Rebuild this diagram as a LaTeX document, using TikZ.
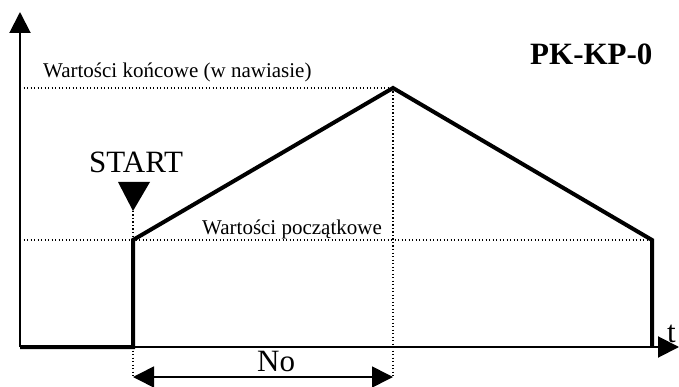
\documentclass[tikz,border=0pt]{standalone}
\usepackage{fontspec}
\setmainfont{Liberation Serif}
\usetikzlibrary{arrows.meta}
\begin{document}
\begin{tikzpicture}[x=1pt,y=-1pt,
  axis/.style={line width=2pt,-{Triangle[length=21pt,width=21pt]}},
  signal/.style={line width=4pt,line join=miter},
  guide/.style={line width=1.5pt,dash pattern=on 1.4pt off 2.1pt},
  dim/.style={line width=1.6pt,{Triangle[length=21pt,width=21pt]}-{Triangle[length=21pt,width=21pt]}},
  small/.style={inner sep=0pt,anchor=base west,font=\fontsize{21}{25}\selectfont},
  big/.style={inner sep=0pt,anchor=base west,font=\fontsize{31}{36}\selectfont},
  marker/.style={fill=black}]
\useasboundingbox (0,0) rectangle (679,387);
% key points
\coordinate (O) at (20,347);
\coordinate (Ytop) at (20,12);
\coordinate (Xend) at (679,347);
\coordinate (S1) at (133,347);
\coordinate (S2) at (133,240);
\coordinate (P) at (393,88);
\coordinate (E1) at (652,240);
\coordinate (E2) at (652,347);
\coordinate (Lk) at (20,88);
\coordinate (Lp) at (20,240);
\coordinate (Pb) at (393,377);
\coordinate (Sb) at (133,377);
\coordinate (Tip) at (133,211);
% guides
\draw[guide] (Lk) -- (P);
\draw[guide] (Lp) -- (E1);
\draw[guide] (P) -- (Pb);
\draw[guide] (S1) -- (Sb);
\draw[guide] (Tip) -- (S2);
% signal
\draw[signal] (O) -- (S1) -- (S2) -- (P) -- (E1) -- (E2);
% axes
\draw[axis] (O) -- (Ytop);
\draw[axis] (O) -- (Xend);
% start marker
\fill[marker] (118,182) -- (150,182) -- (Tip) -- cycle;
% dimension
\draw[dim] (Sb) -- (Pb);
% texts
\node[small] (wk) at (43,78) {Wartości końcowe (w nawiasie)};
\node[small] (wp) at (202,234) {Wartości początkowe};
\node[big,font=\fontsize{31}{36}\selectfont\bfseries] (pk) at (530,65) {PK-KP-0};
\node[big] (start) at (89,173) {START};
\node[big] (no) at (257,371) {No};
\node[big] (t) at (667,342) {t};
\end{tikzpicture}
\end{document}
